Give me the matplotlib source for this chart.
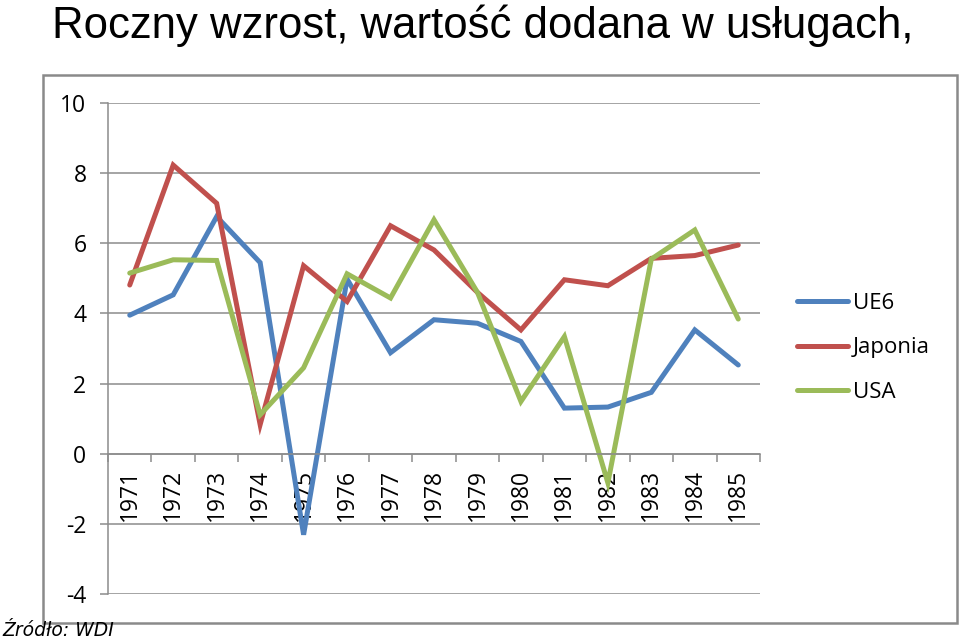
import numpy as np
import matplotlib.pyplot as plt
from matplotlib.patches import Rectangle

years = [str(y) for y in range(1971, 1986)]
ue6 = [3.95, 4.53, 6.76, 5.45, -2.31, 4.98, 2.88, 3.82, 3.72, 3.2, 1.3, 1.33, 1.75, 3.53, 2.53]
japonia = [4.81, 8.23, 7.14, 0.83, 5.36, 4.34, 6.5, 5.81, 4.6, 3.53, 4.96, 4.79, 5.57, 5.65, 5.95]
usa = [5.15, 5.53, 5.51, 1.11, 2.45, 5.13, 4.44, 6.67, 4.6, 1.49, 3.34, -0.83, 5.55, 6.38, 3.84]
series = [("UE6", ue6, "#4F81BD"), ("Japonia", japonia, "#C0504D"), ("USA", usa, "#9BBB59")]
yticks = [-4, -2, 0, 2, 4, 6, 8, 10]

W, H = 960, 643
fig = plt.figure(figsize=(9.6, 6.43), dpi=100)
ax = fig.add_axes([108 / W, 1 - 594 / H, (760 - 108) / W, (594 - 103) / H])

grid_c = "#8c8c8c"
tick_font = dict(family=["Open Sans", "DejaVu Sans"], size=16.5)

x = np.arange(len(years))
for name, vals, c in series:
    ax.plot(x, vals, color=c, lw=3.6, label=name, solid_joinstyle="miter", solid_capstyle="round")

ax.set_xlim(-0.5, len(years) - 0.5)
ax.set_ylim(-4, 10)
ax.set_yticks(yticks)
ax.set_yticklabels([str(v) for v in yticks], fontdict=tick_font)
ax.yaxis.grid(True, color=grid_c, lw=1.1)
ax.set_axisbelow(True)

# category axis crosses at zero, ticks between categories
ax.spines["bottom"].set_position(("data", 0))
for s in ["top", "right"]:
    ax.spines[s].set_visible(False)
for s in ["left", "bottom"]:
    ax.spines[s].set_color(grid_c)
    ax.spines[s].set_linewidth(1.1)
ax.set_xticks(x)
ax.set_xticklabels(years, rotation=90, fontdict=tick_font, va="top")
ax.set_xticks(np.arange(len(years) + 1) - 0.5, minor=True)
ax.tick_params(axis="x", which="major", length=0, pad=11)
ax.tick_params(axis="x", which="minor", length=5.5, color=grid_c, width=1.1, direction="out")
ax.tick_params(axis="y", length=5.5, color=grid_c, width=1.1, pad=10)

fig.legend(loc="center left", bbox_to_anchor=(797 / W, 1 - 348 / H), frameon=False,
           prop=dict(family=["Open Sans", "DejaVu Sans"], size=16), handlelength=2.3,
           handletextpad=0.2, labelspacing=1.05, borderpad=0, borderaxespad=0)

fig.patches.append(Rectangle((43 / W, 1 - 623 / H), (957 - 43) / W, (623 - 75) / H,
                             transform=fig.transFigure, fill=False, edgecolor="#8a8a8a", lw=1.8))

fig.text(52 / W, 1 - 38 / H, "Roczny wzrost, wartość dodana w usługach,", fontsize=31.5,
         family="Liberation Sans", va="baseline", ha="left")
fig.text(2 / W, 1 - 636 / H, "Źródło: WDI", fontsize=13.5, style="italic",
         family="DejaVu Sans", va="baseline", ha="left")

fig.savefig("out.png", dpi=100)
